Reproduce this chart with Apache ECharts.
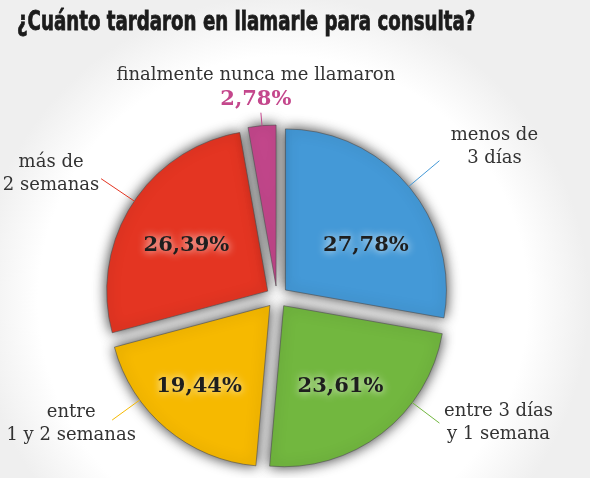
<!DOCTYPE html>
<html>
<head>
<meta charset="utf-8">
<script src="https://cdn.jsdelivr.net/npm/echarts@6/dist/echarts.min.js"></script>
<style>
html, body { margin: 0; padding: 0; }
#chart-container { width: 590px; height: 478px; }
</style>
</head>
<body>
<div id="chart-container"></div>
<script>
var names = ['menos de\n3 días', 'entre 3 días\ny 1 semana', 'entre\n1 y 2 semanas', 'más de\n2 semanas', 'finalmente nunca me llamaron'];
var values = [27.78, 23.61, 19.44, 26.39, 2.78];
var colors = ['#4499d7', '#72b73f', '#f6b900', '#e43522', '#c4478c'];

// pie placement (px)
var cx = 277, cy = 297, radius = 161, explode = 11;
// leader lines: angle on the rim (deg, clockwise from top), length, text shift from line end
var leadAngle = [50, 127, 234, 304, 355];
var leadLen = [40, 34, 34, 40, 13];
var labelShift = [[55, -14], [59, 0], [-41, 4], [-50, -5], [-5, -25]];
// percentage labels inside the slices
var innerAngle = [61, 145, 221, 299];
var innerDist = [92, 99, 108, 93];

var total = values.reduce(function (a, b) { return a + b; }, 0);
var mids = [];
var acc = 0;
values.forEach(function (v) {
    mids.push((acc + v / 2) / total * 360);
    acc += v;
});

function rimPoint(i, ang, dist) {
    var m = mids[i] * Math.PI / 180;
    var a = ang * Math.PI / 180;
    return [
        cx + explode * Math.sin(m) + dist * Math.sin(a),
        cy - explode * Math.cos(m) - dist * Math.cos(a)
    ];
}

function fmt(v) {
    return v.toFixed(2).replace('.', ',') + '%';
}

var dom = document.getElementById('chart-container');
var myChart = echarts.init(dom, null, { renderer: 'canvas' });

// transparent copy of the pie, only used to carry labels (drawn above the slices)
function labelPie(label, lineOpacity, labelLayout) {
    return {
        type: 'pie',
        z: 5,
        center: [cx, cy],
        radius: radius,
        startAngle: 90,
        silent: true,
        avoidLabelOverlap: false,
        itemStyle: { color: 'rgba(0,0,0,0)' },
        data: values.map(function (v, i) {
            return { name: names[i], value: v, labelLine: { lineStyle: { color: colors[i] } } };
        }),
        label: label,
        labelLine: { show: true, length: 20, length2: 0, lineStyle: { width: 1, opacity: lineOpacity } },
        labelLayout: labelLayout
    };
}

var option = {
    animation: false,
    backgroundColor: new echarts.graphic.RadialGradient(0.48, 0.63, 0.64, [
        { offset: 0, color: '#ffffff' },
        { offset: 0.8, color: '#ffffff' },
        { offset: 1, color: '#efefef' }
    ]),
    graphic: [{
        type: 'text',
        x: 17,
        y: 9,
        scaleX: 0.75,
        style: {
            text: '¿Cuánto tardaron en llamarle para consulta?',
            font: 'bold 27px "Liberation Sans Narrow", "DejaVu Sans Condensed", sans-serif',
            fill: '#1b1b1b',
            stroke: '#1b1b1b',
            lineWidth: 0.8
        }
    }],
    series: [
        {
            type: 'pie',
            center: [cx, cy],
            radius: radius,
            startAngle: 90,
            silent: true,
            selectedMode: 'multiple',
            selectedOffset: explode,
            data: values.map(function (v, i) {
                return { name: names[i], value: v, selected: true, itemStyle: { color: colors[i] } };
            }),
            itemStyle: {
                borderColor: 'rgba(80,80,80,0.6)',
                borderWidth: 1,
                shadowBlur: 13,
                shadowColor: 'rgba(0,0,0,0.8)'
            },
            label: { show: false },
            labelLine: { show: false }
        },
        labelPie(
            {
                position: 'outside',
                formatter: function (p) {
                    if (p.dataIndex === 4) {
                        return '{n|' + p.name + '}\n{p|' + fmt(p.value) + '}';
                    }
                    return p.name;
                },
                fontFamily: 'DejaVu Serif',
                fontSize: 18,
                lineHeight: 23,
                color: '#333',
                rich: {
                    n: { fontFamily: 'DejaVu Serif', fontSize: 18, lineHeight: 23, color: '#333' },
                    p: { fontFamily: 'DejaVu Serif', fontSize: 21, fontWeight: 'bold', lineHeight: 25, color: '#c4478c' }
                }
            },
            1,
            function (p) {
                var i = p.dataIndex;
                var s = rimPoint(i, leadAngle[i], radius);
                var a = leadAngle[i] * Math.PI / 180;
                var e = [s[0] + leadLen[i] * Math.sin(a), s[1] - leadLen[i] * Math.cos(a)];
                return {
                    x: e[0] + labelShift[i][0],
                    y: e[1] + labelShift[i][1],
                    align: 'center',
                    verticalAlign: 'middle',
                    labelLinePoints: [s, e, e]
                };
            }
        ),
        labelPie(
            {
                position: 'outside',
                formatter: function (p) {
                    return p.dataIndex < 4 ? fmt(p.value) : ' ';
                },
                fontFamily: 'DejaVu Serif',
                fontWeight: 'bold',
                fontSize: 21,
                color: '#1e1e1e',
                textShadowColor: '#fff',
                textShadowBlur: 8
            },
            0,
            function (p) {
                var i = p.dataIndex;
                var pt = i < 4 ? rimPoint(i, innerAngle[i], innerDist[i]) : [cx, cy];
                return {
                    x: pt[0],
                    y: pt[1],
                    align: 'center',
                    verticalAlign: 'middle',
                    labelLinePoints: [pt, pt, pt]
                };
            }
        )
    ]
};

myChart.setOption(option);
window.addEventListener('resize', myChart.resize);
</script>
</body>
</html>
